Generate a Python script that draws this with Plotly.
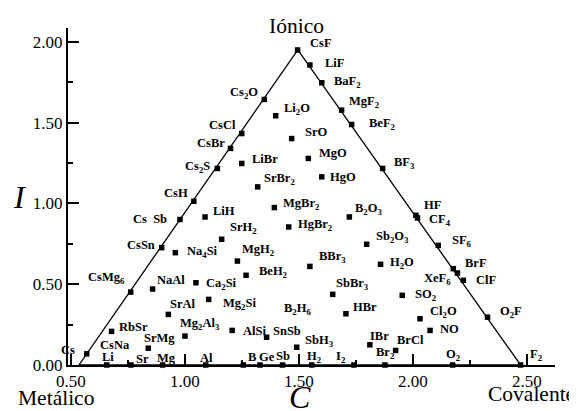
import plotly.graph_objects as go

# ---- data (C = x, I = y) ----
names = ["CsF", "LiF", "BaF<sub>2</sub>", "MgF<sub>2</sub>", "BeF<sub>2</sub>", "BF<sub>3</sub>",
         "HF", "CF<sub>4</sub>", "SF<sub>6</sub>", "BrF", "XeF<sub>6</sub>", "ClF", "O<sub>2</sub>F", "F<sub>2</sub>",
         "Cs<sub>2</sub>O", "CsCl", "CsBr", "Cs<sub>2</sub>S", "CsH", "Cs  Sb", "CsSn", "CsMg<sub>6</sub>", "Cs",
         "Li<sub>2</sub>O", "SrO", "MgO", "HgO", "LiBr", "SrBr<sub>2</sub>", "MgBr<sub>2</sub>", "HgBr<sub>2</sub>",
         "B<sub>2</sub>O<sub>3</sub>", "Sb<sub>2</sub>O<sub>3</sub>", "LiH", "SrH<sub>2</sub>", "MgH<sub>2</sub>",
         "BeH<sub>2</sub>", "Na<sub>4</sub>Si", "NaAl", "Ca<sub>2</sub>Si", "Mg<sub>2</sub>Si", "BBr<sub>3</sub>",
         "H<sub>2</sub>O", "SbBr<sub>3</sub>", "SO<sub>2</sub>", "HBr", "Cl<sub>2</sub>O", "NO", "RbSr", "SrAl",
         "Mg<sub>2</sub>Al<sub>3</sub>", "SrMg", "AlSi", "SnSb", "SbH<sub>3</sub>", "IBr", "BrCl",
         "Li", "Sr", "Mg", "Al", "B", "Ge", "Sb", "H<sub>2</sub>", "I<sub>2</sub>", "Br<sub>2</sub>", "O<sub>2</sub>"]
C_vals = [1.494, 1.548, 1.600, 1.687, 1.731, 1.867,
          2.013, 2.020, 2.111, 2.177, 2.195, 2.221, 2.327, 2.472,
          1.348, 1.249, 1.200, 1.142, 1.039, 0.978, 0.898, 0.762, 0.569,
          1.398, 1.468, 1.541, 1.600, 1.249, 1.319, 1.392, 1.455,
          1.721, 1.797, 1.088, 1.161, 1.230,
          1.268, 0.958, 0.858, 1.048, 1.104, 1.548,
          1.858, 1.648, 1.953, 1.706, 2.031, 2.075, 0.678, 0.927,
          1.000, 0.839, 1.207, 1.358, 1.490, 1.811, 1.924,
          0.657, 0.763, 0.902, 1.091, 1.256, 1.329, 1.428, 1.556, 1.741, 1.877, 2.174]
I_vals = [1.949, 1.856, 1.746, 1.577, 1.488, 1.216,
          0.926, 0.910, 0.740, 0.596, 0.569, 0.524, 0.296, 0.0,
          1.643, 1.432, 1.340, 1.216, 1.013, 0.900, 0.726, 0.451, 0.069,
          1.542, 1.401, 1.278, 1.164, 1.247, 1.102, 0.974, 0.854,
          0.916, 0.747, 0.916, 0.778, 0.643,
          0.555, 0.695, 0.470, 0.509, 0.406, 0.610,
          0.623, 0.437, 0.431, 0.317, 0.286, 0.214, 0.208, 0.313,
          0.179, 0.104, 0.214, 0.172, 0.110, 0.125, 0.090,
          0.0, 0.0, 0.0, 0.0, 0.0, 0.0, 0.0, 0.0, 0.0, 0.0, 0.0]

# labels drawn without a marker
free_names = ["CsNa", "B<sub>2</sub>H<sub>6</sub>"]
free_C = [0.618, 1.424]
free_I = [0.121, 0.348]

# triangle vertices
tri_C = [0.535, 1.495, 2.472]
tri_I = [0.0, 1.950, 0.0]

x_ticks = [0.50, 1.00, 1.50, 2.00, 2.50]
y_ticks = [0.00, 0.50, 1.00, 1.50, 2.00]

# ---- label placement (anchor, dx px, dy px downwards) ----
label_pos = [("l", 10.7, -6.7), ("l", 12.7, -1.7), ("l", 10, -1), ("l", 5, -8), ("l", 15, 0), ("l", 9, -5),
             ("l", 5.7, -10), ("l", 9.7, 1.7), ("l", 11.7, -4.3), ("l", 10, -5.7), ("r", -4, 5.7), ("l", 10.7, 0),
             ("l", 10.7, -5), ("l", 7.7, -10),
             ("r", -4.3, -6), ("r", -3.3, -8.3), ("r", -4, -5), ("r", -5.7, -1.7), ("r", -4.3, -8.3),
             ("r", -10.7, -1), ("r", -5, -3), ("r", -4, -14.3), ("r", -10, -4),
             ("l", 6, -6.3), ("l", 11, -6.7), ("l", 8.3, -5), ("l", 6.7, 0), ("l", 8.3, -4), ("l", 4, -8.3),
             ("l", 6.7, -4), ("l", 7, -1.7),
             ("l", 4, -8.3), ("l", 7.3, -7.3), ("l", 5.7, -6), ("l", 6.7, -11), ("l", 3, -10.7),
             ("l", 10.7, -3.3), ("l", 9.7, -0.7), ("l", 2.3, -8.7), ("l", 8, 1), ("l", 12.7, 5), ("l", 7.3, -9.3),
             ("l", 7, -1.3), ("l", 1.7, -10), ("l", 10.7, 0), ("l", 4.7, -6.7), ("l", 8.3, -6.7), ("l", 7.7, -1.7),
             ("l", 5, -4.3), ("l", 0, -10.7),
             ("l", -6.7, -12.3), ("l", -6.7, -10), ("l", 9, 0.7), ("l", 4, -6.7), ("l", 6, -6.7),
             ("l", -1.7, -9.3), ("l", -1, -10),
             ("c", 1, -7.7), ("l", 3, -5.7), ("c", 4, -6.7), ("c", 1, -7.3), ("l", 2.7, -8.3), ("l", -2.7, -8.3),
             ("c", 0.7, -9), ("c", 2, -8.3), ("r", -7.3, -8.3), ("c", 0, -11.7), ("c", 0, -10)]

anchor_map = {"l": "left", "r": "right", "c": "center"}
serif = "Liberation Serif"

fig = go.Figure()
fig.add_trace(go.Scatter(x=tri_C + [tri_C[0]], y=tri_I + [tri_I[0]], mode="lines",
                         line=dict(color="black", width=1.3), hoverinfo="skip", cliponaxis=False))
fig.add_trace(go.Scatter(x=C_vals, y=I_vals, mode="markers",
                         marker=dict(symbol="square", size=5.5, color="black"),
                         text=names, cliponaxis=False))

annotations = []
for n, cx, iy, (a, dx, dy) in zip(names, C_vals, I_vals, label_pos):
    annotations.append(dict(x=cx, y=iy, xref="x", yref="y", text="<b>" + n + "</b>",
                            showarrow=False, xanchor=anchor_map[a], yanchor="middle",
                            xshift=dx, yshift=-dy,
                            font=dict(family=serif, size=12.5, color="black")))
for n, cx, iy in zip(free_names, free_C, free_I):
    annotations.append(dict(x=cx, y=iy, xref="x", yref="y", text="<b>" + n + "</b>",
                            showarrow=False, xanchor="left", yanchor="middle",
                            font=dict(family=serif, size=12.5, color="black")))

# corner / axis titles
annotations += [
    dict(x=0.469, y=1.007, xref="paper", yref="paper", text="Iónico", showarrow=False,
         xanchor="center", yanchor="middle", font=dict(family=serif, size=21.5, color="black")),
    dict(x=-0.025, y=-0.099, xref="paper", yref="paper", text="Metálico", showarrow=False,
         xanchor="center", yanchor="middle", font=dict(family=serif, size=21.5, color="black")),
    dict(x=0.952, y=-0.085, xref="paper", yref="paper", text="Covalente", showarrow=False,
         xanchor="center", yanchor="middle", font=dict(family=serif, size=21.5, color="black")),
    dict(x=0.476, y=-0.095, xref="paper", yref="paper", text="<i>C</i>", showarrow=False,
         xanchor="center", yanchor="middle", font=dict(family=serif, size=32, color="black")),
    dict(x=-0.100, y=0.4985, xref="paper", yref="paper", text="<i>I</i>", showarrow=False,
         xanchor="center", yanchor="middle", font=dict(family=serif, size=32, color="black")),
]

axis_common = dict(showgrid=False, zeroline=False, showline=True, linecolor="black", linewidth=2,
                   ticks="inside", ticklen=11, tickwidth=2, tickcolor="black",
                   tickfont=dict(family=serif, size=17, color="black"))

# the page body adds an 8px offset, so the figure is 8px smaller on each axis
fig.update_layout(
    width=569, height=403,
    margin=dict(l=60, r=22, t=20, b=46),
    paper_bgcolor="white", plot_bgcolor="white",
    showlegend=False,
    annotations=annotations,
    xaxis=dict(range=[0.487, 2.623], tickvals=x_ticks, ticktext=[f"{v:.2f}" for v in x_ticks],
               minor=dict(ticks="inside", ticklen=5, tickwidth=2, tickcolor="black", dtick=0.25, tick0=0),
               **axis_common),
    yaxis=dict(range=[0, 2.085], tickvals=y_ticks, ticktext=[f"{v:.2f}" for v in y_ticks],
               minor=dict(ticks="inside", ticklen=5, tickwidth=2, tickcolor="black", dtick=0.25, tick0=0),
               **axis_common),
)

fig.write_html("out.html")
